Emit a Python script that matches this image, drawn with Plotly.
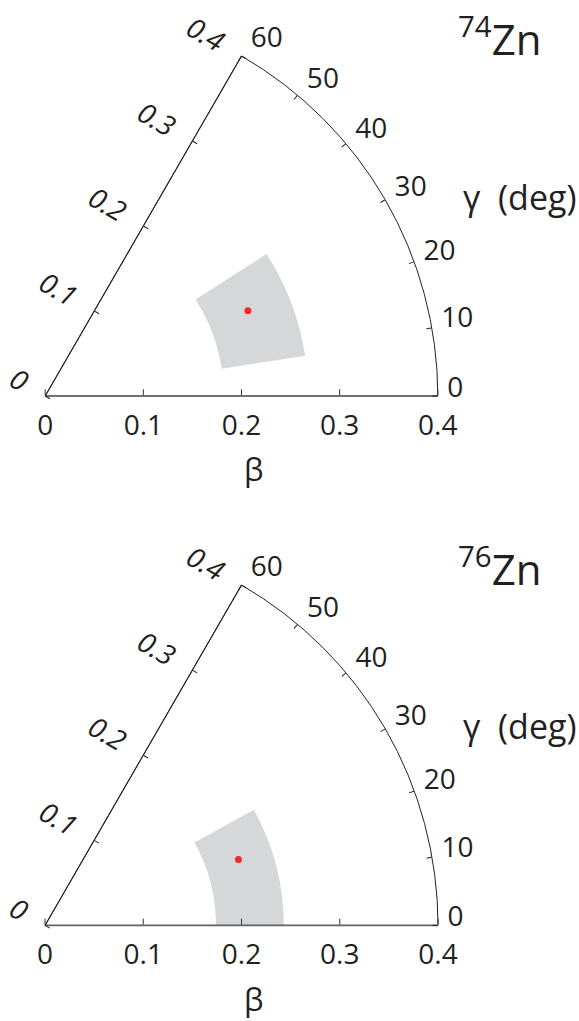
import plotly.graph_objects as go

# ---- data ----
nuclei = ["<sup>74</sup>Zn", "<sup>76</sup>Zn"]
beta_point = [0.224, 0.208]
gamma_point = [22.8, 18.8]
beta_low = [0.182, 0.174]
beta_high = [0.268, 0.243]
gamma_low = [8.8, 0.0]
gamma_high = [32.7, 29.0]

beta_ticks = [0, 0.1, 0.2, 0.3, 0.4]
beta_ticktext = ["0", "0.1", "0.2", "0.3", "0.4"]
gamma_ticks = [0, 10, 20, 30, 40, 50, 60]

W, H = 579, 1021
FONT = "Open Sans"
TICKSIZE = 28
TXT = "#231f20"

# layout positions (pixels) of each panel: origin y and apex y
panels = [dict(y0=396, y1=56), dict(y0=925.5, y1=585)]
x0_px, x1_px = 45, 438


def dom(p, dx=0.0, dy=0.0):
    """domain of a panel translated by (dx, dy) pixels (dy positive = down)"""
    return dict(x=[(x0_px + dx) / W, (x1_px + dx) / W],
                y=[1 - (p["y0"] + dy) / H, 1 - (p["y1"] + dy) / H])


HIDDEN_ANG = dict(direction="counterclockwise", rotation=0, showline=False,
                  showticklabels=False, ticks="", showgrid=False)

fig = go.Figure()
layout = dict(
    width=W, height=H, margin=dict(l=0, r=0, t=0, b=0),
    paper_bgcolor="white", plot_bgcolor="white", showlegend=False,
    annotations=[],
)

n = 0
for i, p in enumerate(panels):
    names = []
    for k in range(5):
        n += 1
        names.append("polar" if n == 1 else f"polar{n}")
    A, B, C, D, E = names

    # gray uncertainty region
    fig.add_trace(go.Barpolar(
        r=[beta_high[i] - beta_low[i]], base=[beta_low[i]],
        theta=[(gamma_low[i] + gamma_high[i]) / 2],
        width=[gamma_high[i] - gamma_low[i]],
        marker=dict(color="#d6d7d9", line=dict(width=0)),
        subplot=A, hoverinfo="skip"))
    # red point
    fig.add_trace(go.Scatterpolar(
        r=[beta_point[i]], theta=[gamma_point[i]], mode="markers",
        marker=dict(color="#ec2b2b", size=7), subplot=A))
    # empty traces for the overlay subplots
    for s in (B, C, D, E):
        fig.add_trace(go.Scatterpolar(r=[None], theta=[None], subplot=s,
                                      mode="markers", hoverinfo="skip"))

    # A: frame (arc, 0-deg axis line with ticks)
    layout[A] = dict(
        domain=dom(p), sector=[0, 60], bgcolor="white",
        radialaxis=dict(range=[0, 0.4], angle=0, side="clockwise",
                        tickvals=beta_ticks, showticklabels=False,
                        ticks="inside", ticklen=6, tickcolor="#333",
                        showline=True, linecolor="#666", linewidth=1.6,
                        showgrid=False),
        angularaxis=dict(direction="counterclockwise", rotation=0,
                         tickvals=gamma_ticks, ticks="inside", ticklen=5,
                         tickcolor="#222", showline=True, linecolor="#222",
                         linewidth=1, showgrid=False, showticklabels=False),
    )
    # B: 60-deg axis line with ticks
    layout[B] = dict(
        domain=dom(p), sector=[0, 60], bgcolor="rgba(0,0,0,0)",
        radialaxis=dict(range=[0, 0.4], angle=60, side="counterclockwise",
                        tickvals=beta_ticks, showticklabels=False,
                        ticks="inside", ticklen=5, tickcolor="#222",
                        showline=True, linecolor="#222", linewidth=1,
                        showgrid=False),
        angularaxis=HIDDEN_ANG,
    )
    # C: beta tick labels under the 0-deg axis
    layout[C] = dict(
        domain=dom(p, 0, 10), sector=[0, 60], bgcolor="rgba(0,0,0,0)",
        radialaxis=dict(range=[0, 0.4], angle=0, side="clockwise",
                        tickvals=beta_ticks, ticktext=beta_ticktext,
                        ticks="", showline=False, showgrid=False,
                        tickfont=dict(family=FONT, size=TICKSIZE, color=TXT)),
        angularaxis=HIDDEN_ANG,
    )
    # D: italic beta tick labels beside the 60-deg axis
    layout[D] = dict(
        domain=dom(p, -16, -9), sector=[0, 60], bgcolor="rgba(0,0,0,0)",
        radialaxis=dict(range=[0, 0.4], angle=60, side="counterclockwise",
                        tickvals=beta_ticks, ticktext=beta_ticktext,
                        ticks="", showline=False, showgrid=False, tickangle=90,
                        tickfont=dict(family=FONT, size=TICKSIZE, color=TXT,
                                      style="italic")),
        angularaxis=HIDDEN_ANG,
    )
    # E: gamma tick labels
    layout[E] = dict(
        domain=dom(p, 9, -9), sector=[0, 60], bgcolor="rgba(0,0,0,0)",
        radialaxis=dict(range=[0, 0.4], visible=False),
        angularaxis=dict(direction="counterclockwise", rotation=0,
                         tickvals=gamma_ticks, ticks="", showline=False,
                         showgrid=False,
                         tickfont=dict(family=FONT, size=TICKSIZE, color=TXT)),
    )

    # nucleus label
    layout["annotations"].append(dict(
        text=nuclei[i], xref="paper", yref="paper",
        x=543 / W, y=1 - (p["y1"] - 19) / H, xanchor="right", yanchor="middle",
        showarrow=False, font=dict(family=FONT, size=42, color=TXT)))
    # gamma label
    layout["annotations"].append(dict(
        text="γ&nbsp;&nbsp;(deg)", xref="paper", yref="paper",
        x=578 / W, y=1 - (p["y1"] + 141) / H, xanchor="right", yanchor="middle",
        showarrow=False, font=dict(family=FONT, size=34, color=TXT)))
    # beta label
    layout["annotations"].append(dict(
        text="β", xref="paper", yref="paper",
        x=253 / W, y=1 - (p["y0"] + 73) / H, xanchor="center", yanchor="middle",
        showarrow=False, font=dict(family=FONT, size=31, color=TXT)))

fig.update_layout(**layout)
fig.write_html("out.html", config={"displayModeBar": False},
               post_script="document.body.style.margin='0';"
                           "document.body.style.overflow='hidden';")
